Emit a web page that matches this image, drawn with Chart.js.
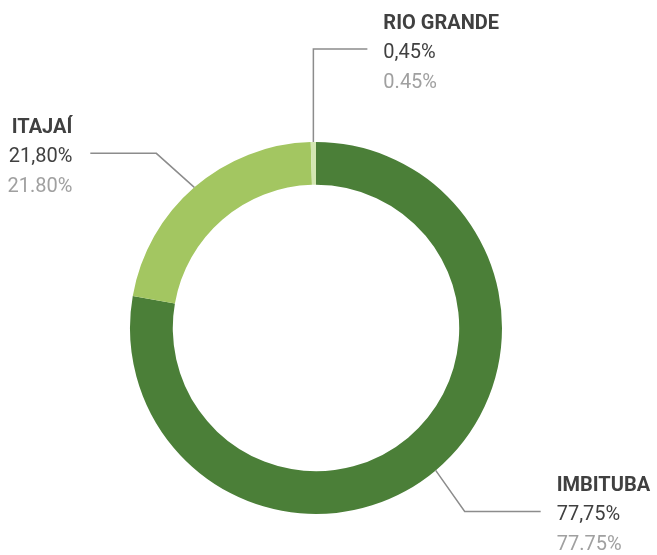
<!DOCTYPE html>
<html>
<head>
<meta charset="utf-8">
<script src="https://cdn.jsdelivr.net/npm/chart.js@4"></script>
<style>
  html, body { margin: 0; padding: 0; background: #ffffff; }
  #wrap { width: 657px; height: 555px; position: relative; }
</style>
</head>
<body>
<div id="wrap"><canvas id="c" width="657" height="555"></canvas></div>
<script>
// ---- data ----
const categories = ['IMBITUBA', 'ITAJAÍ', 'RIO GRANDE'];
const shares = [77.75, 21.80, 0.45];

// ---- styles ----
const sliceColors = ['#4b7f38', '#a3c661', '#d3e6b2'];
const leaderStyle = [
  { dx: 29, dy: 41, hx: 76, side: 'right' },
  { dx: -38, dy: -34, hx: -66, side: 'left' },
  { dx: 0, dy: -93, hx: 54, side: 'right' }
];

const labelPlugin = {
  id: 'leaderLabels',
  afterDraw(chart) {
    const ctx = chart.ctx;
    const meta = chart.getDatasetMeta(0);
    meta.data.forEach((arc, i) => {
      const st = leaderStyle[i];
      const mid = (arc.startAngle + arc.endAngle) / 2;
      const R = arc.outerRadius;
      const p0x = arc.x + Math.cos(mid) * R;
      const p0y = arc.y + Math.sin(mid) * R;
      const ex = p0x + st.dx, ey = p0y + st.dy;
      const hx = ex + st.hx;
      ctx.save();
      ctx.strokeStyle = '#8c8c8c';
      ctx.lineWidth = 1.5;
      ctx.beginPath();
      ctx.moveTo(p0x, p0y);
      ctx.lineTo(ex, ey);
      ctx.lineTo(hx, ey);
      ctx.stroke();

      const tx = st.side === 'right' ? hx + 16 : hx - 18;
      ctx.textAlign = st.side === 'right' ? 'left' : 'right';
      ctx.textBaseline = 'alphabetic';
      const vb = ey + 9;
      const v = shares[i].toFixed(2);
      ctx.fillStyle = '#404040';
      ctx.font = 'bold 20px Roboto, "Liberation Sans", sans-serif';
      ctx.fillText(categories[i], tx, vb - 29);
      ctx.font = '20px Roboto, "Liberation Sans", sans-serif';
      ctx.fillText(v.replace('.', ',') + '%', tx, vb);
      ctx.fillStyle = '#a0a0a0';
      ctx.fillText(v + '%', tx, vb + 30);
      ctx.restore();
    });
  }
};

new Chart(document.getElementById('c'), {
  type: 'doughnut',
  data: {
    labels: categories,
    datasets: [{
      data: shares,
      backgroundColor: sliceColors,
      borderWidth: 0
    }]
  },
  options: {
    responsive: false,
    animation: false,
    cutout: '77%',
    rotation: 0,
    layout: { padding: { left: 130, right: 155, top: 142, bottom: 41 } },
    plugins: {
      legend: { display: false },
      tooltip: { enabled: false }
    }
  },
  plugins: [labelPlugin]
});
</script>
</body>
</html>
